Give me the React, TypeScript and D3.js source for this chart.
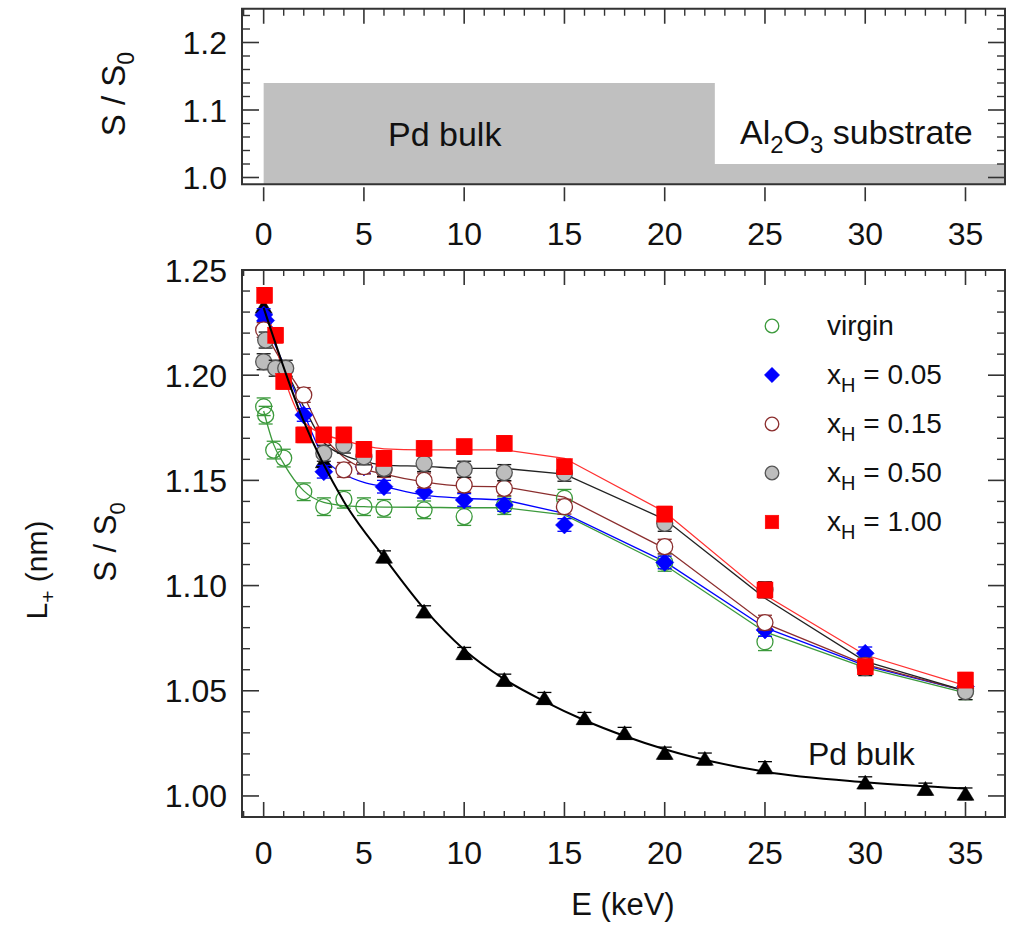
import React from 'react';
import * as d3 from 'd3';

const W = 1012;
const H = 926;
const FONT = "'Liberation Sans', Arial, Helvetica, sans-serif";

// ---------- top panel: layer structure ----------
const LAYER_START = [0, 22.5];
const LAYER_END = [22.5, 37];
const LAYER_TOP = [1.14, 1.02];
const LAYER_LABELS = ['Pd bulk', 'Al2O3 substrate'];

// ---------- tick values ----------
const X_TICKS = [0, 5, 10, 15, 20, 25, 30, 35];
const TOP_Y_TICKS = [1.0, 1.1, 1.2];
const MAIN_Y_TICKS = [1.0, 1.05, 1.1, 1.15, 1.2, 1.25];

// ---------- measured data ----------
const E_VIRGIN = [0, 0.1, 0.5, 1, 2, 3, 4, 5, 6, 8, 10, 12, 15, 20, 25, 30, 35];
const S_VIRGIN = [1.185, 1.181, 1.1644, 1.1606, 1.1446, 1.1375, 1.141, 1.1375, 1.1367, 1.136, 1.1328, 1.138, 1.1415, 1.111, 1.0733, 1.0618, 1.05];

const E_005 = [0, 0.1, 2, 3, 5, 6, 8, 10, 12, 15, 20, 25, 30, 35];
const S_005 = [1.2286, 1.226, 1.1811, 1.1541, 1.1564, 1.147, 1.1446, 1.1407, 1.1383, 1.1288, 1.111, 1.0789, 1.0678, 1.052];

const E_015 = [0, 2, 4, 5, 6, 8, 10, 12, 15, 20, 25, 30, 35];
const S_015 = [1.2215, 1.1906, 1.155, 1.1565, 1.155, 1.15, 1.1478, 1.1462, 1.1375, 1.1185, 1.0824, 1.062, 1.051];

const E_050 = [0, 0.1, 0.6, 1.1, 3, 4, 5, 6, 8, 10, 12, 15, 20, 25, 30, 35];
const S_050 = [1.2064, 1.2167, 1.2033, 1.2033, 1.1629, 1.1668, 1.1612, 1.1557, 1.158, 1.1553, 1.1537, 1.1534, 1.1296, 1.098, 1.061, 1.0496];

const E_100 = [0.05, 0.6, 1, 2, 3, 4, 5, 6, 8, 10, 12, 15, 20, 25, 30, 35];
const S_100 = [1.238, 1.219, 1.197, 1.1716, 1.1716, 1.1716, 1.1648, 1.1605, 1.1652, 1.166, 1.1676, 1.1565, 1.134, 1.0979, 1.0614, 1.0551];

const E_BULK = [0, 3, 6, 8, 10, 12, 14, 16, 18, 20, 22, 25, 30, 33, 35];
const S_BULK = [1.2325, 1.159, 1.1137, 1.0876, 1.0678, 1.0551, 1.0464, 1.0369, 1.0298, 1.0204, 1.0176, 1.0135, 1.0063, 1.0033, 1.001];

// ---------- fitted curves ----------
const FIT_E = [0, 0.5, 1, 2, 3, 4, 5, 6, 8, 10, 12, 15, 20, 25, 30, 35];
const FIT_VIRGIN = [1.183, 1.167, 1.158, 1.145, 1.1395, 1.138, 1.1375, 1.1373, 1.1372, 1.137, 1.137, 1.1336, 1.1098, 1.078, 1.061, 1.049];
const FIT_005 = [1.228, 1.216, 1.205, 1.182, 1.161, 1.153, 1.149, 1.147, 1.143, 1.1415, 1.1407, 1.1343, 1.1114, 1.08, 1.062, 1.05];
const FIT_015 = [1.222, 1.213, 1.205, 1.19, 1.171, 1.161, 1.1555, 1.153, 1.1493, 1.1473, 1.147, 1.142, 1.1177, 1.082, 1.0625, 1.05];
const FIT_050 = [1.21, 1.206, 1.203, 1.185, 1.168, 1.162, 1.159, 1.1573, 1.1567, 1.1557, 1.1557, 1.153, 1.1315, 1.094, 1.064, 1.05];
const FIT_100 = [1.238, 1.219, 1.2, 1.178, 1.172, 1.169, 1.1665, 1.165, 1.1645, 1.1645, 1.1645, 1.1605, 1.135, 1.0955, 1.067, 1.0525];
const FIT_SMOOTH_UNTIL = 12; // smooth curve up to here, straight segments beyond

const FIT_BULK_E = [0, 2, 4, 6, 8, 10, 12, 14, 16, 18, 20, 25, 30, 35];
const FIT_BULK = [1.232, 1.178, 1.14, 1.1135, 1.089, 1.0695, 1.0555, 1.045, 1.036, 1.0285, 1.0222, 1.0115, 1.0065, 1.0035];

const LEGEND_LABELS = ['virgin', '0.05', '0.15', '0.50', '1.00'];

type Shape = 'circle' | 'diamond' | 'square' | 'triangle';
interface Series {
  e: number[];
  s: number[];
  fit: number[];
  shape: Shape;
  fill: string;
  stroke: string;
  line: string;
  err: number;
  errColor: string;
}

const SERIES: Series[] = [
  { e: E_VIRGIN, s: S_VIRGIN, fit: FIT_VIRGIN, shape: 'circle', fill: 'none', stroke: '#3c9a3c', line: '#3c9a3c', err: 0.0042, errColor: '#3c9a3c' },
  { e: E_005, s: S_005, fit: FIT_005, shape: 'diamond', fill: '#0000ff', stroke: '#0000ff', line: '#0000ff', err: 0.003, errColor: '#0000ff' },
  { e: E_015, s: S_015, fit: FIT_015, shape: 'circle', fill: '#ffffff', stroke: '#8b2e2e', line: '#8b2e2e', err: 0.0035, errColor: '#8b2e2e' },
  { e: E_050, s: S_050, fit: FIT_050, shape: 'circle', fill: '#bdbdbd', stroke: '#555555', line: '#222222', err: 0.0038, errColor: '#111111' },
  { e: E_100, s: S_100, fit: FIT_100, shape: 'square', fill: '#ff0000', stroke: '#ff0000', line: '#ff3030', err: 0.0036, errColor: '#ff0000' },
];

const MARKER_R = 8;

function Marker({ shape, cx, cy, fill, stroke, scale = 1 }: { shape: Shape; cx: number; cy: number; fill: string; stroke: string; scale?: number }) {
  if (shape === 'circle') {
    return <circle cx={cx} cy={cy} r={MARKER_R * scale} fill={fill} stroke={stroke} strokeWidth={1.3} />;
  }
  if (shape === 'square') {
    const h = 8 * scale;
    return <rect x={cx - h} y={cy - h} width={2 * h} height={2 * h} fill={fill} stroke={stroke} strokeWidth={0.5} />;
  }
  if (shape === 'diamond') {
    const h = 9 * scale;
    return <path d={`M${cx},${cy - h}L${cx + h},${cy}L${cx},${cy + h}L${cx - h},${cy}Z`} fill={fill} stroke={stroke} strokeWidth={0.5} />;
  }
  const w = 8.5 * scale;
  const hh = 7.5 * scale;
  return <path d={`M${cx},${cy - hh}L${cx + w},${cy + hh * 0.85}L${cx - w},${cy + hh * 0.85}Z`} fill={fill} stroke={stroke} strokeWidth={0.5} />;
}

export default function App() {
  const L = 242;
  const R = 1005;
  const x = d3.scaleLinear().domain([-1.08, 36.97]).range([L, R]);

  // top panel
  const tT = 8.75;
  const tB = 184.25;
  const yT = d3.scaleLinear().domain([0.99, 1.25]).range([tB, tT]);

  // main panel
  const mT = 270;
  const mB = 817;
  const yM = d3.scaleLinear().domain([0.99, 1.25]).range([mB, mT]);

  const minorX = d3.range(-1, 37, 1).filter((v) => v % 5 !== 0);
  const topMinorY = d3.range(1.0, 1.25, 0.02).map((v) => +v.toFixed(3)).filter((v) => Math.abs(v * 10 - Math.round(v * 10)) > 1e-6);
  const mainMinorY = d3.range(0.99, 1.2501, 0.01).map((v) => +v.toFixed(3)).filter((v) => Math.abs(v * 20 - Math.round(v * 20)) > 1e-6);

  const smoothIdx = FIT_E.map((e, i) => i).filter((i) => FIT_E[i] <= FIT_SMOOTH_UNTIL);
  const straightIdx = FIT_E.map((e, i) => i).filter((i) => FIT_E[i] >= FIT_SMOOTH_UNTIL);

  const smoothLine = d3
    .line<number>()
    .x((i) => x(FIT_E[i]))
    .curve(d3.curveMonotoneX);
  const straightLine = d3.line<number>().x((i) => x(FIT_E[i]));

  const bulkLine = d3
    .line<number>()
    .x((_, i) => x(FIT_BULK_E[i]))
    .y((d) => yM(d))
    .curve(d3.curveMonotoneX);

  const frameColor = '#333';
  const tickColor = '#333';

  // layer area path (step profile)
  const layerPts: [number, number][] = [];
  LAYER_START.forEach((s, i) => {
    layerPts.push([s, LAYER_TOP[i]]);
    layerPts.push([LAYER_END[i], LAYER_TOP[i]]);
  });
  const areaPath =
    `M${x(LAYER_START[0])},${tB}` +
    layerPts.map(([e, v]) => `L${Math.min(x(e), R)},${yT(v)}`).join('') +
    `L${R},${tB}Z`;

  return (
    <svg width={W} height={H} style={{ position: 'absolute', left: 0, top: 0, background: '#fff' }} fontFamily={FONT}>
      {/* ================= TOP PANEL ================= */}
      <path d={areaPath} fill="#c0c0c0" stroke="none" />
      <rect x={L} y={tT} width={R - L} height={tB - tT} fill="none" stroke={frameColor} strokeWidth={2} />
      {TOP_Y_TICKS.map((v) => (
        <g key={'tyt' + v}>
          <line x1={L} x2={L + 17} y1={yT(v)} y2={yT(v)} stroke={tickColor} strokeWidth={1.6} />
          <line x1={R} x2={R - 17} y1={yT(v)} y2={yT(v)} stroke={tickColor} strokeWidth={1.6} />
          <text x={227} y={yT(v) + 11.5} fontSize={32} textAnchor="end" fill="#111">
            {v.toFixed(1)}
          </text>
        </g>
      ))}
      {topMinorY.map((v) => (
        <g key={'tym' + v}>
          <line x1={L} x2={L + 8} y1={yT(v)} y2={yT(v)} stroke={tickColor} strokeWidth={1.4} />
          <line x1={R} x2={R - 8} y1={yT(v)} y2={yT(v)} stroke={tickColor} strokeWidth={1.4} />
        </g>
      ))}
      {X_TICKS.map((v) => (
        <g key={'txt' + v}>
          <line x1={x(v)} x2={x(v)} y1={tT} y2={tT + 15} stroke={tickColor} strokeWidth={1.6} />
          <line x1={x(v)} x2={x(v)} y1={tB + 3} y2={tB + 17} stroke={tickColor} strokeWidth={1.6} />
          <text x={x(v)} y={244.5} fontSize={32} textAnchor="middle" fill="#111">
            {v}
          </text>
        </g>
      ))}
      {minorX.map((v) => (
        <line key={'txm' + v} x1={x(v)} x2={x(v)} y1={tT} y2={tT + 7} stroke={tickColor} strokeWidth={1.4} />
      ))}
      <text x={388} y={146} fontSize={34} fill="#111">
        {LAYER_LABELS[0]}
      </text>
      <text x={740} y={144} fontSize={34} fill="#111">
        Al<tspan fontSize={24} dy={9}>2</tspan>
        <tspan dy={-9}>O</tspan>
        <tspan fontSize={24} dy={9}>3</tspan>
        <tspan dy={-9}> substrate</tspan>
      </text>
      <text transform="translate(125,94) rotate(-90)" fontSize={33} textAnchor="middle" fill="#111">
        S / S<tspan fontSize={23} dy={9}>0</tspan>
      </text>

      {/* ================= MAIN PANEL ================= */}
      <rect x={L} y={mT} width={R - L} height={mB - mT} fill="none" stroke={frameColor} strokeWidth={2} />
      {MAIN_Y_TICKS.map((v) => (
        <g key={'myt' + v}>
          <line x1={L} x2={L + 17} y1={yM(v)} y2={yM(v)} stroke={tickColor} strokeWidth={1.6} />
          <line x1={R} x2={R - 17} y1={yM(v)} y2={yM(v)} stroke={tickColor} strokeWidth={1.6} />
          <text x={227} y={yM(v) + 11.5} fontSize={32} textAnchor="end" fill="#111">
            {v.toFixed(2)}
          </text>
        </g>
      ))}
      {mainMinorY.map((v) => (
        <g key={'mym' + v}>
          <line x1={L} x2={L + 8} y1={yM(v)} y2={yM(v)} stroke={tickColor} strokeWidth={1.4} />
          <line x1={R} x2={R - 8} y1={yM(v)} y2={yM(v)} stroke={tickColor} strokeWidth={1.4} />
        </g>
      ))}
      {X_TICKS.map((v) => (
        <g key={'mxt' + v}>
          <line x1={x(v)} x2={x(v)} y1={mB} y2={mB - 15} stroke={tickColor} strokeWidth={1.6} />
          <line x1={x(v)} x2={x(v)} y1={mT} y2={mT + 15} stroke={tickColor} strokeWidth={1.6} />
          <text x={x(v)} y={863.5} fontSize={32} textAnchor="middle" fill="#111">
            {v}
          </text>
        </g>
      ))}
      {minorX.map((v) => (
        <g key={'mxm' + v}>
          <line x1={x(v)} x2={x(v)} y1={mB} y2={mB - 6} stroke={tickColor} strokeWidth={1.4} />
          <line x1={x(v)} x2={x(v)} y1={mT} y2={mT + 6} stroke={tickColor} strokeWidth={1.4} />
        </g>
      ))}

      {/* fitted lines */}
      {SERIES.map((s, i) => (
        <g key={'fit' + i} fill="none" stroke={s.line} strokeWidth={1.3}>
          <path d={smoothLine.y((k) => yM(s.fit[k]))(smoothIdx) || ''} />
          <path d={straightLine.y((k) => yM(s.fit[k]))(straightIdx) || ''} />
        </g>
      ))}

      {/* Pd bulk triangles */}
      {E_BULK.map((e, i) => (
        <g key={'bk' + i}>
          <line x1={x(e)} x2={x(e)} y1={yM(S_BULK[i] - 0.0028)} y2={yM(S_BULK[i] + 0.0028)} stroke="#000" strokeWidth={1.3} />
          <line x1={x(e) - 7} x2={x(e) + 7} y1={yM(S_BULK[i] + 0.0028)} y2={yM(S_BULK[i] + 0.0028)} stroke="#000" strokeWidth={1.3} />
          <line x1={x(e) - 7} x2={x(e) + 7} y1={yM(S_BULK[i] - 0.0028)} y2={yM(S_BULK[i] - 0.0028)} stroke="#000" strokeWidth={1.3} />
          <Marker shape="triangle" cx={x(e)} cy={yM(S_BULK[i])} fill="#000" stroke="#000" />
        </g>
      ))}

      {/* series markers with error bars */}
      {SERIES.map((s, si) => (
        <g key={'ser' + si}>
          {s.e.map((e, i) => {
            const cx = x(e);
            const cy = yM(s.s[i]);
            const hi = yM(s.s[i] + s.err);
            const lo = yM(s.s[i] - s.err);
            const open = s.fill === 'none';
            return (
              <g key={i}>
                {open ? (
                  <>
                    <line x1={cx} x2={cx} y1={hi} y2={Math.min(cy - MARKER_R, hi)} stroke={s.errColor} strokeWidth={1.3} />
                    <line x1={cx} x2={cx} y1={Math.max(cy + MARKER_R, lo)} y2={lo} stroke={s.errColor} strokeWidth={1.3} />
                  </>
                ) : (
                  <line x1={cx} x2={cx} y1={hi} y2={lo} stroke={s.errColor} strokeWidth={1.3} />
                )}
                <line x1={cx - 7} x2={cx + 7} y1={hi} y2={hi} stroke={s.errColor} strokeWidth={1.3} />
                <line x1={cx - 7} x2={cx + 7} y1={lo} y2={lo} stroke={s.errColor} strokeWidth={1.3} />
                <Marker shape={s.shape} cx={cx} cy={cy} fill={s.fill} stroke={s.stroke} />
              </g>
            );
          })}
        </g>
      ))}

      {/* Pd bulk fit line */}
      <path d={bulkLine(FIT_BULK) || ''} fill="none" stroke="#000" strokeWidth={2} />

      <text x={808} y={765} fontSize={32} fill="#111">
        Pd bulk
      </text>

      {/* legend */}
      {SERIES.map((s, i) => {
        const by = 335 + i * 49;
        return (
          <g key={'lg' + i}>
            <Marker shape={s.shape} cx={772} cy={by - 9} fill={s.fill} stroke={s.stroke} scale={0.85} />
            {i === 0 ? (
              <text x={827} y={by} fontSize={28} fill="#111">
                {LEGEND_LABELS[i]}
              </text>
            ) : (
              <text x={827} y={by} fontSize={28} fill="#111">
                x<tspan fontSize={20} dy={8}>H</tspan>
                <tspan dy={-8}> = {LEGEND_LABELS[i]}</tspan>
              </text>
            )}
          </g>
        );
      })}

      {/* axis titles */}
      <text transform="translate(116,542) rotate(-90)" fontSize={31} textAnchor="middle" fill="#111">
        S / S<tspan fontSize={22} dy={9}>0</tspan>
      </text>
      <text transform="translate(47,570) rotate(-90)" fontSize={30} textAnchor="middle" fill="#111">
        L<tspan fontSize={21} dy={8}>+</tspan>
        <tspan dy={-8}> (nm)</tspan>
      </text>
      <text x={623} y={915} fontSize={31} textAnchor="middle" fill="#111">
        E (keV)
      </text>
    </svg>
  );
}
